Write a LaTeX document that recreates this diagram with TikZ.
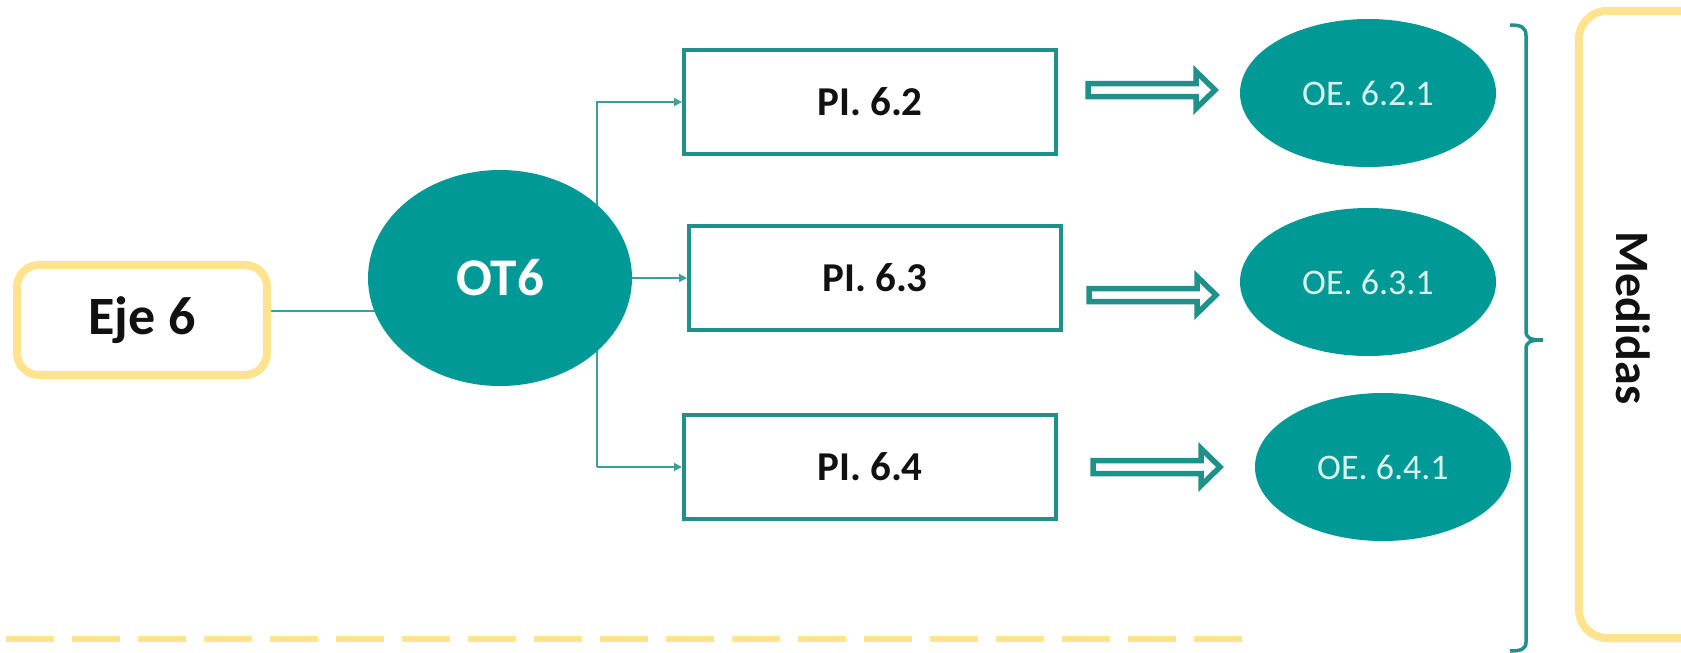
\documentclass[tikz,border=0pt]{standalone}
\usepackage{fontspec}
\setmainfont{Carlito}
\usetikzlibrary{shapes.geometric,arrows.meta,backgrounds}
\definecolor{tealfill}{RGB}{0,153,150}
\definecolor{boxline}{RGB}{30,146,138}
\definecolor{connc}{RGB}{58,160,154}
\definecolor{goldy}{RGB}{255,227,142}
\definecolor{oetext}{RGB}{215,243,239}
\definecolor{inkc}{RGB}{17,17,17}
\tikzset{
  ejebox/.style={draw=goldy, line width=8pt, rounded corners=22pt, fill=white,
    minimum width=250pt, minimum height=110pt, inner sep=0pt,
    font=\bfseries\fontsize{54}{60}\selectfont, text=inkc},
  otnode/.style={ellipse, fill=tealfill, minimum width=264pt, minimum height=216pt,
    inner sep=0pt, font=\bfseries\fontsize{53}{58}\selectfont, text=white},
  pibox/.style={draw=boxline, line width=4pt, fill=white, minimum width=372pt,
    minimum height=104pt, inner sep=0pt, font=\bfseries\fontsize{41}{46}\selectfont, text=inkc},
  oenode/.style={ellipse, fill=tealfill, minimum width=256pt, minimum height=148pt,
    inner sep=0pt, font=\fontsize{36}{42}\selectfont, text=oetext},
  conn/.style={draw=connc, line width=1.8pt},
  conntip/.style={conn, -{Triangle[length=8pt,width=8pt]}},
  blockarrow/.style={draw=boxline, line width=5.5pt, fill=white, line join=miter},
  medtext/.style={rotate=-90, font=\bfseries\fontsize{48}{54}\selectfont, text=inkc}
}
\begin{document}
\begin{tikzpicture}[x=1pt,y=-1pt]
\useasboundingbox (0,0) rectangle (1681,653);

% nodes
\node[ejebox] (eje) at (142,320) {Eje 6};
\node[otnode] (ot6) at (500,278) {OT6};
\node[pibox] (pi62) at (870,102) {PI. 6.2};
\node[pibox] (pi63) at (875,278) {PI. 6.3};
\node[pibox] (pi64) at (870,467) {PI. 6.4};
\node[oenode] (oe621) at (1368,93) {OE. 6.2.1};
\node[oenode] (oe631) at (1368,282) {OE. 6.3.1};
\node[oenode] (oe641) at (1383,467) {OE. 6.4.1};

% Medidas frame and label
\draw[draw=goldy, line width=8pt, rounded corners=28pt] (1579,11) rectangle (1760,638);
\node[medtext] (med) at (1633,318) {Medidas};

% connectors behind nodes
\coordinate (vx) at (597,0);
\begin{pgfonlayer}{background}
\fill[white] (0,0) rectangle (1681,653);
\draw[conn] ([yshift=9pt]eje.east) -- ([yshift=9pt]eje.east -| ot6.center);
\draw[conntip] (pi64.west -| vx) -- (pi62.west -| vx) -- (pi62.west);
\draw[conntip] (pi64.west -| vx) -- (pi64.west);
\draw[conntip] (ot6.center) -- (pi63.west);
\end{pgfonlayer}

% block arrows from PI boxes toward OE ellipses
\coordinate (a1) at ([xshift=30pt,yshift=12pt]pi62.east);
\coordinate (a2) at ([xshift=26pt,yshift=-17pt]pi63.east);
\coordinate (a3) at ([xshift=35pt]pi64.east);
\foreach \s in {a1,a2,a3}{
  \draw[blockarrow] (\s) ++(0,-6.5) -- ++(108,0) -- ++(0,-12) -- ++(19,18.5)
     -- ++(-19,18.5) -- ++(0,-12) -- ++(-108,0) -- cycle;
}

% right brace
\draw[draw=boxline, line width=3.5pt]
  (1510,25) .. controls (1521,25) and (1526,27) .. (1526,36)
  -- (1526,331) .. controls (1526,338) and (1530,340) .. (1543,340)
  .. controls (1530,340) and (1526,342) .. (1526,349)
  -- (1526,642) .. controls (1526,649) and (1521,651) .. (1510,651);

% dashed separator
\draw[draw=goldy, line width=5.5pt, dash pattern=on 48pt off 18pt] (6,639) -- (1243,639);
\end{tikzpicture}
\end{document}
